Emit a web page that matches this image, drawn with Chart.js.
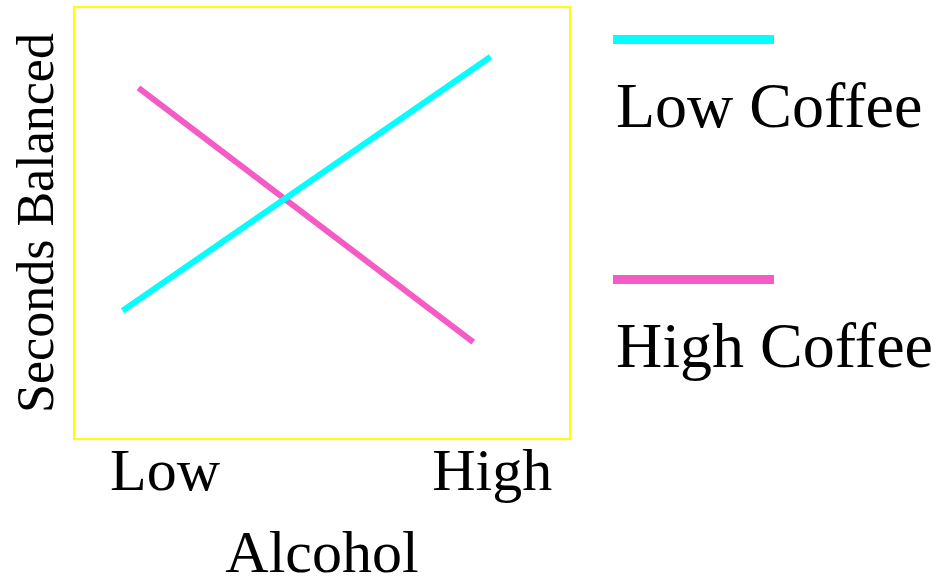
<!DOCTYPE html>
<html>
<head>
<meta charset="utf-8">
<script src="https://cdn.jsdelivr.net/npm/chart.js@4.4.1/dist/chart.umd.min.js"></script>
<style>
  html, body { margin: 0; padding: 0; background: #fff; }
  #wrap { width: 937px; height: 577px; }
</style>
</head>
<body>
<div id="wrap"><canvas id="myChart" width="937" height="577"></canvas></div>
<script>
// axis categories and where their labels sit on the x scale
var alcoholLabels = ['Low', 'High'];
var alcoholTickX = [1.835, 8.43];

// series values (x, y)
var seriesNames = ['Low Coffee', 'High Coffee'];
var lowCoffeeX = [0.98, 8.40];
var lowCoffeeY = [2.97, 8.85];
var highCoffeeX = [1.30, 8.05];
var highCoffeeY = [8.13, 2.24];

function toPoints(xs, ys) {
    return xs.map(function (x, i) { return { x: x, y: ys[i] }; });
}

// Yellow frame around the plot area
var frame = {
    id: 'frame',
    afterDraw: function (chart) {
        var a = chart.chartArea, c = chart.ctx;
        c.save();
        c.strokeStyle = '#ffff00';
        c.lineWidth = 2;
        c.strokeRect(a.left, a.top, a.right - a.left, a.bottom - a.top);
        c.restore();
    }
};

// Legend on the right: line sample above each label
var sideLegend = {
    id: 'sideLegend',
    afterDraw: function (chart) {
        var c = chart.ctx;
        c.save();
        chart.data.datasets.forEach(function (ds, i) {
            var y = 39.5 + i * 240;
            c.fillStyle = ds.borderColor;
            c.fillRect(613, y - 4.5, 161, 9);
            c.fillStyle = '#000';
            c.font = '64px "Liberation Serif"';
            c.textBaseline = 'alphabetic';
            c.fillText(ds.label, 616, y + 87.5);
        });
        c.restore();
    }
};

var data = {
    datasets: [{
        label: seriesNames[0],
        borderColor: '#00ffff',
        data: toPoints(lowCoffeeX, lowCoffeeY)
    },
    {
        label: seriesNames[1],
        borderColor: '#f55bc5',
        data: toPoints(highCoffeeX, highCoffeeY)
    }]
};

var options = {
    responsive: false,
    animation: false,
    layout: { padding: { left: 0, right: 367, top: 7, bottom: 0 } },
    elements: {
        point: { radius: 0 },
        line: { borderWidth: 6, tension: 0 }
    },
    plugins: { legend: { display: false }, tooltip: { enabled: false } },
    scales: {
        x: {
            type: 'linear',
            min: 0,
            max: 10,
            grid: { display: false, drawTicks: false },
            border: { display: false },
            afterBuildTicks: function (axis) {
                axis.ticks = alcoholTickX.map(function (v) { return { value: v }; });
            },
            ticks: {
                color: '#000',
                padding: 5,
                maxRotation: 0,
                font: { family: 'Liberation Serif', size: 60, lineHeight: 1.0 },
                callback: function (value) {
                    var i = alcoholTickX.indexOf(value);
                    return i >= 0 ? alcoholLabels[i] : '';
                }
            },
            title: {
                display: true,
                text: 'Alcohol',
                color: '#000',
                padding: { top: 23, bottom: -3 },
                font: { family: 'Liberation Serif', size: 60, lineHeight: 0.8 }
            }
        },
        y: {
            min: 0,
            max: 10,
            grid: { display: false, drawTicks: false },
            border: { display: false },
            ticks: { display: false },
            title: {
                display: true,
                text: 'Seconds Balanced',
                color: '#000',
                padding: { top: 8, bottom: 3.6 },
                font: { family: 'Liberation Serif', size: 52, lineHeight: 1.2 }
            }
        }
    }
};

var ctx = document.getElementById('myChart').getContext('2d');

var myChart = new Chart(ctx, {
    type: 'line',
    data: data,
    options: options,
    plugins: [frame, sideLegend]
});
</script>
</body>
</html>
